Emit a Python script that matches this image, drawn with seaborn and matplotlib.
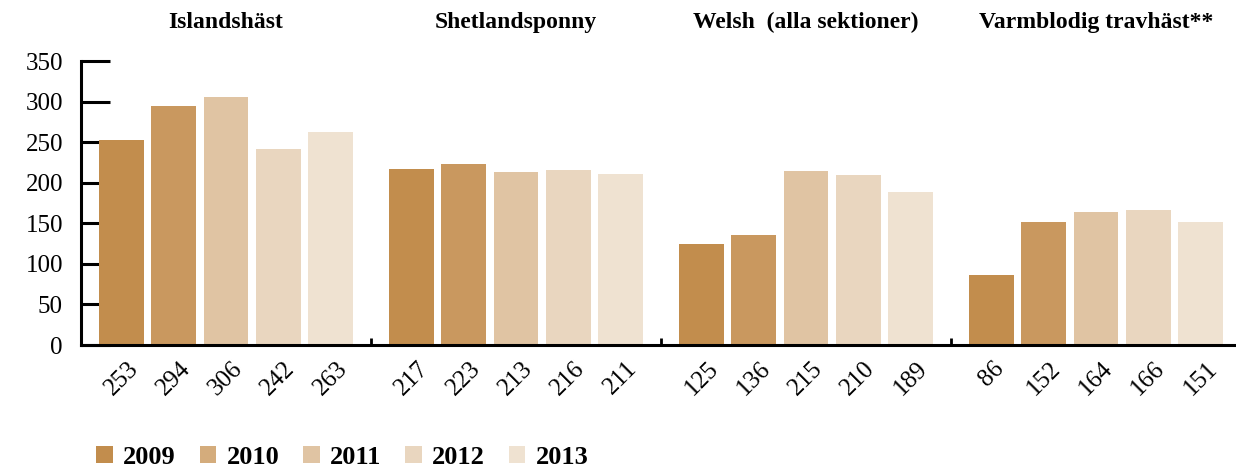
import matplotlib
matplotlib.use("Agg")
import matplotlib.pyplot as plt
import seaborn as sns
import pandas as pd
from matplotlib.patches import Patch
from matplotlib.ticker import FixedLocator

groups = ["Islandshäst", "Shetlandsponny", "Welsh  (alla sektioner)", "Varmblodig travhäst**"]
years = ["2009", "2010", "2011", "2012", "2013"]
v2009 = [253, 217, 125, 86]
v2010 = [294, 223, 136, 152]
v2011 = [306, 213, 215, 164]
v2012 = [242, 216, 210, 166]
v2013 = [263, 211, 189, 151]
colors = ["#C28D4D", "#C9985F", "#E0C4A3", "#E9D6BF", "#EFE2D1"]
legend_colors = ["#C28D4D", "#D4AC7C", "#E0C4A3", "#E9D6BF", "#EFE2D1"]
yticks = [0, 50, 100, 150, 200, 250, 300, 350]

series = [v2009, v2010, v2011, v2012, v2013]
rows = []
for y, vals in zip(years, series):
    for g, v in zip(groups, vals):
        rows.append({"group": g, "year": y, "value": v})
df = pd.DataFrame(rows)

sns.set_theme(style="white")
plt.rcParams["font.family"] = ["Liberation Serif", "DejaVu Serif"]
plt.rcParams["text.color"] = "black"
plt.rcParams["xtick.color"] = "black"
plt.rcParams["ytick.color"] = "black"

fig = plt.figure(figsize=(12.36, 4.68), dpi=100)
ax = fig.add_axes([81/1236, 123/468, 1160/1236, 284/468])

sns.barplot(data=df, x="group", y="value", hue="year", order=groups, hue_order=years,
            palette=colors, width=0.9, gap=0.14, saturation=1, ax=ax, legend=False,
            linewidth=0, edgecolor="none")

ax.set_xlim(-0.5, 3.5)
ax.set_ylim(0, 350)
ax.set_axisbelow(True)
ax.set_xlabel("")
ax.set_ylabel("")

for s in ["top", "right"]:
    ax.spines[s].set_visible(False)
for s in ["left", "bottom"]:
    ax.spines[s].set_color("black")
    ax.spines[s].set_linewidth(2.2)

ax.set_yticks(yticks)
ax.set_yticklabels([str(t) for t in yticks], fontsize=18)
ax.tick_params(axis="y", direction="in", length=21, width=2.2, color="black", pad=13, left=True,
               labelcolor="black")

centers, labels = [], []
for cont, vals in zip(ax.containers, series):
    for bar, v in zip(cont, vals):
        centers.append(bar.get_x() + bar.get_width() / 2)
        labels.append(str(v))
order = sorted(range(len(centers)), key=lambda i: centers[i])
ax.set_xticks([centers[i] for i in order])
ax.set_xticklabels([labels[i] for i in order], rotation=45, ha="center", fontsize=18)
ax.tick_params(axis="x", which="major", length=0, pad=9, labelcolor="black")
ax.xaxis.set_minor_locator(FixedLocator([0.5, 1.5, 2.5]))
ax.tick_params(axis="x", which="minor", direction="in", length=5, width=2, color="black", bottom=True)

for i, g in enumerate(groups):
    ax.text(i, 1.137, g, transform=ax.get_xaxis_transform(), ha="center", va="center",
            fontsize=17, fontweight="bold", color="black")

handles = [Patch(facecolor=c, edgecolor="none") for c in legend_colors]
fig.legend(handles, years, loc="center left", bbox_to_anchor=(0.078, 0.023), ncol=5,
           frameon=False, prop={"weight": "bold", "size": 19}, handlelength=0.62,
           handleheight=0.62, handletextpad=0.4, columnspacing=0.9, borderpad=0, borderaxespad=0)

fig.savefig("out.png", dpi=100, facecolor="white")
